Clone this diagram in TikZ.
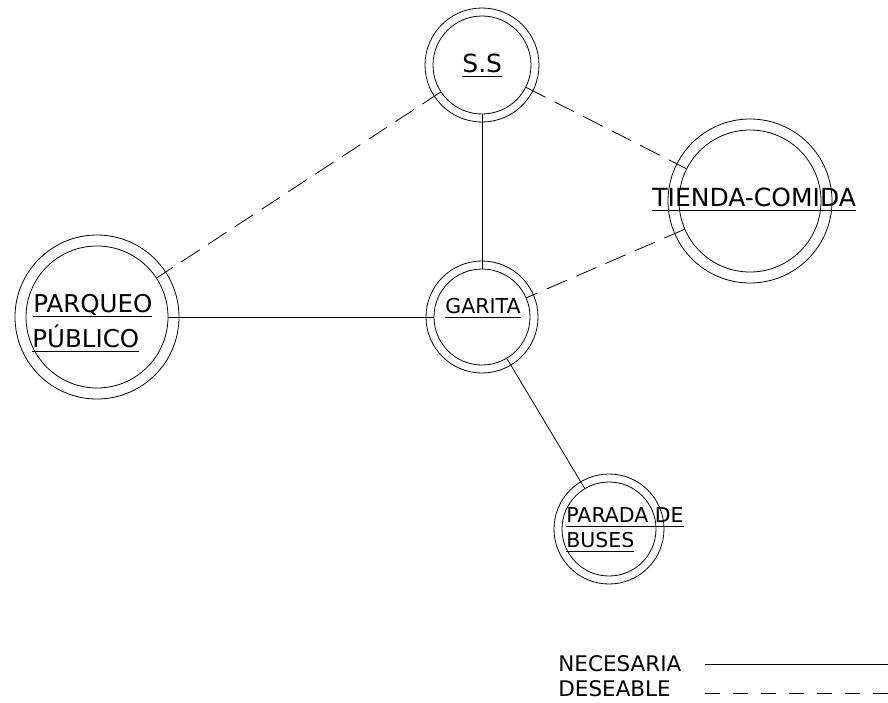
\documentclass[tikz,border=0pt]{standalone}
\usepackage{fontspec}
\setmainfont{DejaVu Sans}
\newcommand\ulbox[1]{\vtop{\hbox{\raisebox{0pt}[\height][0pt]{#1}}\kern3.6pt\hrule height .9pt}}
\tikzset{
  room/.style={circle,draw,inner sep=0pt},
  lbl/.style={inner sep=0pt,anchor=base west},
  deseable/.style={dash pattern=on 22pt off 10pt},
}
\begin{document}
\begin{tikzpicture}[x=1pt,y=-1pt,line width=.8pt]
  \useasboundingbox (0,0) rectangle (888,702);
  % zonas (circulo interior)
  \node[room,minimum size=98pt] (ss) at (482,65) {};
  \node[room,minimum size=142pt] (tienda) at (750,201) {};
  \node[room,minimum size=142pt] (parq) at (97,317) {};
  \node[room,minimum size=96pt] (garita) at (482,317) {};
  \node[room,minimum size=94pt] (parada) at (609,529) {};
  % circulo exterior
  \foreach \n/\r in {ss/57,tienda/82,parq/82,garita/56,parada/55}
    \draw (\n.center) circle (\r pt);
  % nombres
  \node[lbl,font=\fontsize{25}{30}\selectfont] (ssT) at (462,72) {\ulbox{S.S}};
  \node[lbl,font=\fontsize{25}{30}\selectfont] (tiendaT) at (652,206) {\ulbox{TIENDA-COMIDA}};
  \node[lbl,font=\fontsize{24.5}{30}\selectfont] (parq1) at (33,312) {\ulbox{PARQUEO}};
  \node[lbl,font=\fontsize{24.5}{30}\selectfont] (parq2) at (32,347) {\ulbox{PÚBLICO}};
  \node[lbl,font=\fontsize{20.5}{25}\selectfont] (garitaT) at (445,313) {\ulbox{GARITA}};
  \node[lbl,font=\fontsize{20.5}{25}\selectfont] (parada1) at (566,522) {\ulbox{PARADA DE}};
  \node[lbl,font=\fontsize{20.5}{25}\selectfont] (parada2) at (566,547) {\ulbox{BUSES}};
  % relaciones
  \draw (ss) -- (garita);
  \draw (parq) -- (garita);
  \draw (garita) -- (parada);
  \draw[deseable] (ss) -- (parq);
  \draw[deseable] (ss) -- (tienda);
  \draw[deseable] (tienda) -- (garita);
  % leyenda
  \node[lbl,font=\fontsize{21.5}{26}\selectfont] (nec) at (558,671) {NECESARIA};
  \node[lbl,font=\fontsize{21.5}{26}\selectfont] (des) at (558,696) {DESEABLE};
  \coordinate (necA) at (705,664);
  \coordinate (necB) at (888,664);
  \coordinate (desA) at (705,693);
  \coordinate (desB) at (888,693);
  \draw (necA) -- (necB);
  \draw[dash pattern=on 15pt off 13pt] (desA) -- (desB);
\end{tikzpicture}
\end{document}
